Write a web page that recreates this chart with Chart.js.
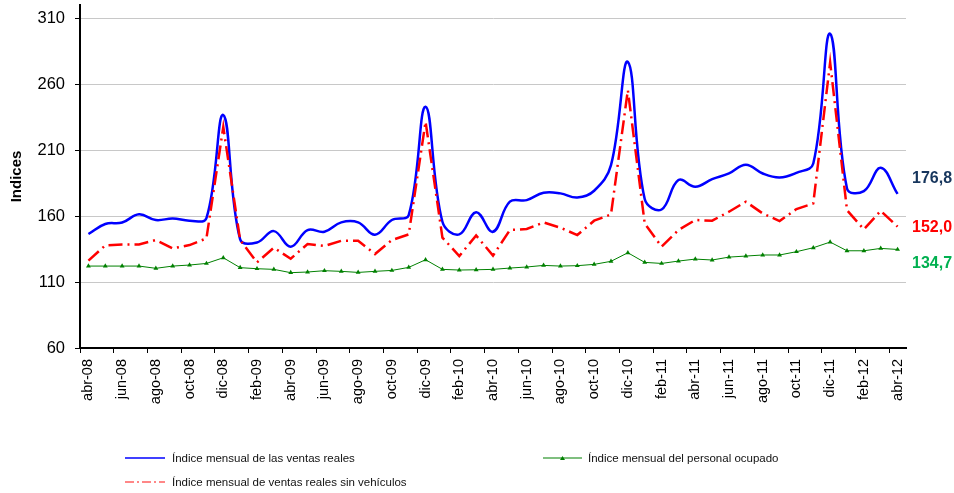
<!DOCTYPE html>
<html>
<head>
<meta charset="utf-8">
<script src="https://cdn.jsdelivr.net/npm/chart.js@4/dist/chart.umd.min.js"></script>
<style>
  html, body { margin: 0; padding: 0; background: #fff; }
  #wrap { position: relative; width: 954px; height: 493px; }
  canvas { position: absolute; left: 0; top: 0; }
  .leg { position: absolute; font-family: Arial, "Liberation Sans", sans-serif; font-size: 11.5px; color: #111; white-space: nowrap; line-height: 14px; }
  svg.ls { position: absolute; }
</style>
</head>
<body>
<div id="wrap">
  <canvas id="c" width="954" height="493"></canvas>
</div>
<script>
const categories = [
  "abr-08","may-08","jun-08","jul-08","ago-08","sep-08","oct-08","nov-08","dic-08",
  "ene-09","feb-09","mar-09","abr-09","may-09","jun-09","jul-09","ago-09","sep-09","oct-09","nov-09","dic-09",
  "ene-10","feb-10","mar-10","abr-10","may-10","jun-10","jul-10","ago-10","sep-10","oct-10","nov-10","dic-10",
  "ene-11","feb-11","mar-11","abr-11","may-11","jun-11","jul-11","ago-11","sep-11","oct-11","nov-11","dic-11",
  "ene-12","feb-12","mar-12","abr-12"
];
const ventasReales = [146.4,154.0,155.1,161.3,157.0,158.2,156.5,158.5,236.6,142.3,140.0,148.6,136.8,149.4,148.1,155.2,155.2,145.9,157.0,160.8,242.8,155.7,146.1,162.9,148.1,170.9,172.1,177.7,177.2,174.1,179.2,198.6,276.9,172.9,165.0,187.3,182.2,188.0,192.3,198.9,192.3,189.3,192.8,199.9,298.2,180.9,178.9,196.6,176.8];
const personalOcupado = [122.1,122.1,122.1,122.1,120.4,122.1,122.9,124.1,128.4,120.9,120.1,119.6,117.1,117.6,118.6,118.1,117.3,118.1,118.8,121.1,126.9,119.6,119.1,119.3,119.6,120.6,121.4,122.6,122.1,122.4,123.4,125.7,132.2,124.9,124.1,125.9,127.4,126.7,128.9,129.7,130.5,130.5,133.0,136.0,140.3,133.7,133.7,135.5,134.7];
const ventasSinVehiculos = [126.2,137.8,138.5,138.5,141.8,135.5,138.0,143.1,227.5,141.8,124.9,136.0,127.7,138.8,137.3,141.3,141.3,131.2,141.8,146.1,231.5,143.7,129.7,145.3,130.0,149.4,150.2,155.2,151.2,145.6,156.5,161.3,255.5,154.4,136.8,149.4,157.0,156.5,163.3,170.9,162.0,156.2,165.3,169.6,276.5,164.5,149.9,164.0,152.0];
const seriesNames = [
  "Índice mensual de las ventas reales",
  "Índice mensual del personal ocupado",
  "Índice mensual de ventas reales sin vehículos"
];
const yTicks = [60,110,160,210,260,310];
const endLabels = ["176,8","134,7","152,0"];

const FONT = 'Arial, "Liberation Sans", sans-serif';
const colors = ['#0000FF', '#008000', '#FF0000'];
const endColors = ['#17365D', '#00B050', '#FF0000'];
const endOffsets = [-15, 14.5, 1];

const endLabelPlugin = {
  id: 'endLabels',
  afterDatasetsDraw(chart) {
    const ctx = chart.ctx;
    const ys = chart.scales.y;
    ctx.save();
    ctx.font = 'bold 16px ' + FONT;
    ctx.textAlign = 'left';
    ctx.textBaseline = 'middle';
    chart.data.datasets.forEach((ds, i) => {
      const v = ds.data[ds.data.length - 1];
      const y = ys.getPixelForValue(v) + endOffsets[i];
      ctx.fillStyle = endColors[i];
      ctx.fillText(endLabels[i], chart.chartArea.right + 6, y);
    });
    ctx.restore();
  }
};

new Chart(document.getElementById('c'), {
  type: 'line',
  data: {
    labels: categories,
    datasets: [
      { label: seriesNames[0], data: ventasReales, borderColor: colors[0], backgroundColor: colors[0],
        borderWidth: 2.5, pointRadius: 0, tension: 0.4, order: 2 },
      { label: seriesNames[1], data: personalOcupado, borderColor: colors[1], backgroundColor: colors[1],
        borderWidth: 1, pointStyle: 'triangle', pointRadius: 2.8, pointBorderWidth: 0, tension: 0, order: 1 },
      { label: seriesNames[2], data: ventasSinVehiculos, borderColor: colors[2], backgroundColor: colors[2],
        borderWidth: 2.5, borderDash: [14, 5, 2, 5], pointRadius: 0, tension: 0, order: 0 }
    ]
  },
  options: {
    responsive: false,
    animation: false,
    events: [],
    layout: { padding: { top: 5, right: 48, bottom: 0, left: 0 } },
    plugins: { legend: { display: false }, tooltip: { enabled: false } },
    scales: {
      x: {
        type: 'category',
        offset: true,
        grid: {
          offset: true,
          drawOnChartArea: false,
          tickLength: 5,
          lineWidth: 1,
          color: (ctx) => (ctx.index % 2 === 0 ? '#000' : 'rgba(0,0,0,0)')
        },
        border: { color: '#000', width: 2 },
        ticks: {
          autoSkip: false,
          maxRotation: 90,
          minRotation: 90,
          padding: 6,
          color: '#000',
          font: { family: FONT, size: 14.5 },
          callback: (v, i) => (i % 2 === 0 ? categories[i] : '')
        },
        afterFit: (s) => { s.height = 145; s.paddingLeft = 0; s.paddingRight = 0; }
      },
      y: {
        min: 60,
        max: 320,
        afterBuildTicks: (s) => { s.ticks = yTicks.map(v => ({ value: v })); },
        grid: { color: '#C8C8C8', lineWidth: 1, tickLength: 5, tickColor: '#000' },
        border: { color: '#000', width: 2 },
        ticks: {
          padding: 10,
          color: '#000',
          font: { family: FONT, size: 16.5 },
          callback: (v) => String(v)
        },
        title: {
          display: true,
          text: 'Indices',
          color: '#000',
          font: { family: FONT, size: 15, weight: 'bold' },
          padding: { top: 8, bottom: 0 }
        },
        afterFit: (s) => { s.width = 80; s.paddingTop = 0; s.paddingBottom = 0; }
      }
    }
  },
  plugins: [endLabelPlugin]
});

// Legend (HTML)
const wrap = document.getElementById('wrap');
function addLegend(x1, x2, y, tx, text, draw) {
  const svg = document.createElementNS('http://www.w3.org/2000/svg', 'svg');
  svg.setAttribute('class', 'ls');
  svg.setAttribute('width', x2 - x1 + 10);
  svg.setAttribute('height', 12);
  svg.style.left = (x1 - 5) + 'px';
  svg.style.top = (y - 6) + 'px';
  svg.innerHTML = draw(x2 - x1);
  wrap.appendChild(svg);
  const d = document.createElement('div');
  d.className = 'leg';
  d.textContent = text;
  d.style.left = tx + 'px';
  d.style.top = (y - 7) + 'px';
  wrap.appendChild(d);
}
addLegend(125, 165, 458, 172, seriesNames[0],
  (w) => `<line x1="5" y1="6" x2="${5 + w}" y2="6" stroke="${colors[0]}" stroke-width="1.5"/>`);
addLegend(543, 582, 458, 588, seriesNames[1],
  (w) => `<line x1="5" y1="6" x2="${5 + w}" y2="6" stroke="${colors[1]}" stroke-width="1.2"/>` +
         `<polygon points="${5 + w / 2 - 2.5},8 ${5 + w / 2 + 2.5},8 ${5 + w / 2},4" fill="${colors[1]}"/>`);
addLegend(125, 165, 482, 172, seriesNames[2],
  (w) => `<line x1="5" y1="6" x2="${5 + w}" y2="6" stroke="#FF6060" stroke-width="1.5" stroke-dasharray="9,3,2,3"/>`);
</script>
</body>
</html>
